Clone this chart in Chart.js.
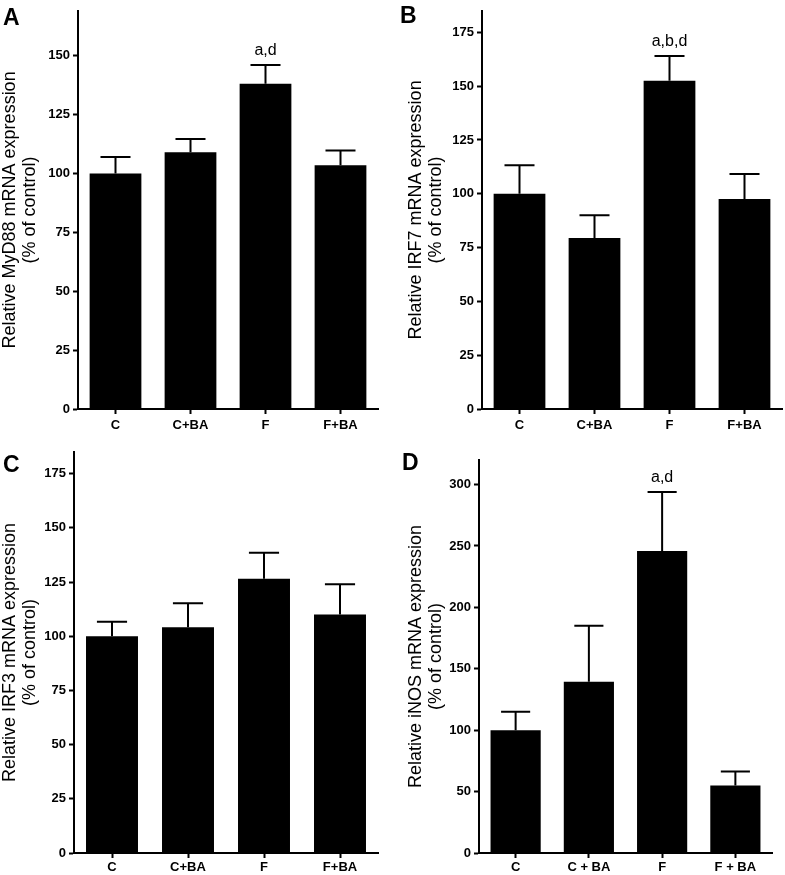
<!DOCTYPE html>
<html lang="en">
<head>
    <meta charset="UTF-8">
    <title>mRNA expression panels</title>
    <style>
        body { margin: 0; background: #fff; }
        #wrap { position: relative; width: 785px; height: 875px; }
        canvas { position: absolute; }
    </style>
</head>
<body>
<div id="wrap">
    <canvas id="panelA" width="392" height="437" style="left:0;top:0"></canvas>
    <canvas id="panelB" width="393" height="437" style="left:392px;top:0"></canvas>
    <canvas id="panelC" width="392" height="438" style="left:0;top:437px"></canvas>
    <canvas id="panelD" width="393" height="438" style="left:392px;top:437px"></canvas>
</div>
<script src="https://cdn.jsdelivr.net/npm/chart.js"></script>
<script>
// groups
const groups = ['C', 'C+BA', 'F', 'F+BA'];
const groupsD = ['C', 'C + BA', 'F', 'F + BA'];

// mean and upper error (% of control)
const myd88Mean = [100, 109, 138, 103.5];
const myd88Err = [7, 5.6, 8, 6.2];
const irf7Mean = [100, 79.5, 152.5, 97.6];
const irf7Err = [13.2, 10.5, 11.5, 11.6];
const irf3Mean = [100, 104.2, 126.5, 110];
const irf3Err = [6.7, 11, 12, 14];
const inosMean = [100, 139.4, 246, 55];
const inosErr = [15, 45.6, 48, 11.3];

// significance letters
const myd88Notes = ['', '', 'a,d', ''];
const irf7Notes = ['', '', 'a,b,d', ''];
const irf3Notes = ['', '', '', ''];
const inosNotes = ['', '', 'a,d', ''];

// y tick labels
const ticks150 = [0, 25, 50, 75, 100, 125, 150];
const ticks175 = [0, 25, 50, 75, 100, 125, 150, 175];
const ticks300 = [0, 50, 100, 150, 200, 250, 300];

const FONT = "'Liberation Sans', Arial, sans-serif";

const errorBars = {
    id: 'errorBars',
    afterDatasetsDraw(chart, args, opts) {
        const ctx = chart.ctx;
        const y = chart.scales.y;
        const ds = chart.data.datasets[0];
        const meta = chart.getDatasetMeta(0);
        ctx.save();
        ctx.strokeStyle = '#000';
        ctx.fillStyle = '#000';
        ctx.lineWidth = 2;
        ctx.font = '16px ' + FONT;
        ctx.textAlign = 'center';
        ctx.textBaseline = 'alphabetic';
        meta.data.forEach((bar, i) => {
            const top = y.getPixelForValue(ds.data[i] + ds.errors[i]);
            const half = bar.width * 0.29;
            ctx.beginPath();
            ctx.moveTo(bar.x, bar.y);
            ctx.lineTo(bar.x, top);
            ctx.moveTo(bar.x - half, top);
            ctx.lineTo(bar.x + half, top);
            ctx.stroke();
            if (opts.notes[i]) ctx.fillText(opts.notes[i], bar.x, top - 10);
        });
        // panel letter
        ctx.font = 'bold 23px ' + FONT;
        ctx.textAlign = 'left';
        ctx.fillText(opts.letter, opts.letterX, opts.letterY);
        ctx.restore();
    }
};

function makePanel(id, p) {
    const canvas = document.getElementById(id);
    const W = canvas.width, H = canvas.height;
    const axisGrid = { display: true, drawOnChartArea: false, tickLength: 5, tickWidth: 2, tickColor: '#000' };
    const axisBorder = { color: '#000', width: 2 };
    return new Chart(canvas.getContext('2d'), {
        type: 'bar',
        data: {
            labels: p.labels,
            datasets: [{
                data: p.mean,
                errors: p.err,
                backgroundColor: '#000',
                borderWidth: 0,
                categoryPercentage: 1,
                barPercentage: p.barPct
            }]
        },
        options: {
            responsive: false,
            animation: false,
            layout: { padding: { left: 0, right: W - p.area.right, top: p.area.top, bottom: 0 } },
            plugins: {
                legend: { display: false },
                tooltip: { enabled: false },
                errorBars: { notes: p.notes, letter: p.letter, letterX: p.letterX, letterY: p.letterY }
            },
            scales: {
                x: {
                    offset: true,
                    grid: Object.assign({ offset: false }, axisGrid),
                    border: axisBorder,
                    ticks: { color: '#000', font: { family: FONT, size: 13, weight: 'bold' }, padding: p.xPad, maxRotation: 0, autoSkip: false },
                    afterFit: s => { s.height = H - p.area.bottom; }
                },
                y: {
                    min: 0,
                    max: p.max,
                    grid: axisGrid,
                    border: axisBorder,
                    afterBuildTicks: s => { s.ticks = p.ticks.map(v => ({ value: v })); },
                    ticks: { color: '#000', font: { family: FONT, size: 13, weight: 'bold' }, padding: 3 },
                    title: {
                        display: true,
                        text: [p.title, '(% of control)'],
                        color: '#000',
                        font: { family: FONT, size: 18, lineHeight: 1.12 },
                        padding: { top: p.titlePad, bottom: 0 }
                    },
                    afterFit: s => { s.width = p.area.left; }
                }
            }
        },
        plugins: [errorBars]
    });
}

makePanel('panelA', {
    labels: groups, mean: myd88Mean, err: myd88Err, notes: myd88Notes, ticks: ticks150, max: 169,
    title: 'Relative MyD88 mRNA expression', titlePad: 0, barPct: 0.69, xPad: 4,
    area: { left: 78, right: 378, top: 3, bottom: 409 },
    letter: 'A', letterX: 3, letterY: 25
});
makePanel('panelB', {
    labels: groups, mean: irf7Mean, err: irf7Err, notes: irf7Notes, ticks: ticks175, max: 185,
    title: 'Relative IRF7 mRNA expression', titlePad: 14, barPct: 0.69, xPad: 4,
    area: { left: 90, right: 390, top: 7, bottom: 409 },
    letter: 'B', letterX: 8, letterY: 23
});
makePanel('panelC', {
    labels: groups, mean: irf3Mean, err: irf3Err, notes: irf3Notes, ticks: ticks175, max: 185,
    title: 'Relative IRF3 mRNA expression', titlePad: 0, barPct: 0.684, xPad: 2,
    area: { left: 74, right: 378, top: 15, bottom: 416 },
    letter: 'C', letterX: 3, letterY: 35
});
makePanel('panelD', {
    labels: groupsD, mean: inosMean, err: inosErr, notes: inosNotes, ticks: ticks300, max: 320,
    title: 'Relative iNOS mRNA expression', titlePad: 14, barPct: 0.685, xPad: 2,
    area: { left: 87, right: 380, top: 23, bottom: 416 },
    letter: 'D', letterX: 10, letterY: 33
});
</script>
</body>
</html>
